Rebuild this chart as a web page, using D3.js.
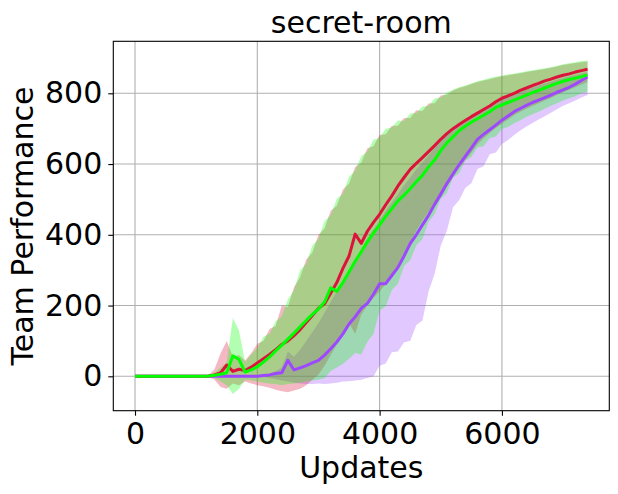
<!DOCTYPE html>
<html>
<head>
<meta charset="utf-8">
<script src="https://cdn.jsdelivr.net/npm/d3@7"></script>
<style>
  body { margin: 0; background: #fff; }
  text { font-family: "DejaVu Sans", sans-serif; fill: #000; }
</style>
</head>
<body>
<div id="chart"></div>
<script>
// sample grid of the runs (every 100 updates)
var updates = d3.range(0, 7401, 100);

var redMean = [0,0,0,0,0,0,0,0,0,0,
  0,0,1,4,10,32,14,20,16,26,
  38,50,62,75,90,100,115,132,152,172,
  192,205,235,265,305,340,402,376,410,435,
  458,485,510,538,562,585,602,618,635,652,
  670,686,700,712,723,734,744,754,764,776,
  786,793,800,808,815,822,828,835,840,846,
  851,855,860,864,868];
var redUpper = [0,0,0,0,0,0,0,0,0,0,
  0,0,3,20,65,100,55,60,45,65,
  92,100,134,142,200,196,252,280,330,350,
  400,418,468,482,528,544,592,604,645,650,
  682,684,708,708,730,730,752,750,771,772,
  794,796,808,815,820,826,832,836,840,845,
  848,851,854,857,860,863,866,869,872,876,
  880,883,886,888,890];
var redLower = [0,0,0,0,0,0,0,0,0,0,
  0,0,-2,-10,-30,-35,-20,-25,-15,-20,
  -25,-28,-32,-38,-42,-45,-40,-35,-25,-10,
  5,30,60,90,120,150,120,175,200,222,
  240,262,285,315,350,380,412,440,465,485,
  505,535,562,588,610,632,655,672,688,702,
  714,726,738,748,756,764,772,780,787,795,
  803,810,817,825,832];

var greenMean = [0,0,0,0,0,0,0,0,0,0,
  0,0,1,3,6,10,58,48,12,18,
  27,40,55,72,88,105,122,140,158,175,
  190,210,250,240,265,295,325,352,380,405,
  428,452,474,496,512,530,550,568,592,612,
  638,660,677,694,707,718,728,738,748,760,
  767,774,781,788,795,802,808,815,822,828,
  834,839,843,847,852];
var greenUpper = [0,0,0,0,0,0,0,0,0,0,
  0,0,3,10,25,40,165,130,40,62,
  80,112,120,156,170,218,243,300,318,370,
  388,438,456,502,516,564,581,622,636,668,
  675,700,703,723,722,743,744,763,764,785,
  788,802,810,817,822,828,834,838,843,847,
  850,853,856,859,862,865,868,871,874,878,
  882,885,888,891,893];
var greenLower = [0,0,0,0,0,0,0,0,0,0,
  0,0,-2,-5,-15,-25,-50,-35,-10,-12,
  -15,-18,-20,-22,-25,-22,-20,-18,-15,-12,
  -10,-5,15,25,35,50,66,62,98,120,
  185,198,244,262,312,328,370,388,437,458,
  502,518,561,574,610,620,647,650,674,678,
  699,705,715,724,733,741,748,756,765,772,
  780,786,792,800,805];

var purpleMean = [0,0,0,0,0,0,0,0,0,0,
  0,0,0,0,0,0,0,0,0,0,
  0,2,4,8,10,45,18,24,30,38,
  45,60,78,97,120,148,168,192,206,232,
  262,262,285,308,340,375,400,428,455,486,
  515,545,572,598,622,645,670,684,697,710,
  724,736,748,757,766,774,781,788,795,803,
  810,817,826,836,846];
var purpleUpper = [0,0,0,0,0,0,0,0,0,0,
  0,0,0,0,0,0,0,0,0,0,
  0,3,8,15,25,70,55,75,100,125,
  150,180,210,240,270,300,330,360,390,415,
  440,468,492,515,540,562,585,605,625,645,
  665,682,698,712,724,736,746,756,766,775,
  783,790,797,804,810,816,822,828,833,838,
  843,848,852,856,860];
var purpleLower = [0,0,0,0,0,0,0,0,0,0,
  0,0,0,0,0,0,0,0,0,0,
  0,-2,-5,-8,-12,-15,-18,-20,-22,-22,
  -20,-22,-20,-18,-15,-14,-12,-10,-5,0,
  30,36,68,70,96,100,145,158,240,290,
  370,412,478,498,532,546,586,594,628,633,
  657,668,682,695,706,716,726,735,745,755,
  765,772,780,788,795];

var xTicks = [0, 2000, 4000, 6000];
var yTicks = [0, 200, 400, 600, 800];

// drawn in this order: purple, red, green
var series = [
  { color: "#9d48ff", mean: purpleMean, upper: purpleUpper, lower: purpleLower },
  { color: "#dc143c", mean: redMean, upper: redUpper, lower: redLower },
  { color: "#00ff00", mean: greenMean, upper: greenUpper, lower: greenLower }
];

var W = 618, H = 494;
var margin = { top: 41.3, right: 8.7, bottom: 83.3, left: 113.3 },
  width = W - margin.left - margin.right,
  height = H - margin.top - margin.bottom;

var svg = d3.select("#chart")
  .append("svg")
  .attr("width", W)
  .attr("height", H)
  .append("g")
  .attr("transform", "translate(" + margin.left + "," + margin.top + ")");

var x = d3.scaleLinear().domain([-355, 7756]).range([0, width]);
var y = d3.scaleLinear().domain([-97.2, 947]).range([height, 0]);

// grid
svg.append("g")
  .selectAll("line.vx")
  .data(xTicks).enter().append("line")
  .attr("x1", function (d) { return x(d); })
  .attr("x2", function (d) { return x(d); })
  .attr("y1", 0).attr("y2", height)
  .style("stroke", "#b0b0b0").style("stroke-width", 1.1);
svg.append("g")
  .selectAll("line.hy")
  .data(yTicks).enter().append("line")
  .attr("y1", function (d) { return y(d); })
  .attr("y2", function (d) { return y(d); })
  .attr("x1", 0).attr("x2", width)
  .style("stroke", "#b0b0b0").style("stroke-width", 1.1);

var plot = svg.append("g");

var area = d3.area()
  .x(function (d) { return x(d.u); })
  .y0(function (d) { return y(d.lo); })
  .y1(function (d) { return y(d.hi); });

var line = d3.line()
  .x(function (d) { return x(d.u); })
  .y(function (d) { return y(d.m); });

series.forEach(function (s) {
  var rows = updates.map(function (u, i) {
    return { u: u, m: s.mean[i], lo: s.lower[i], hi: s.upper[i] };
  });
  plot.append("path")
    .datum(rows)
    .attr("d", area)
    .style("fill", s.color)
    .style("fill-opacity", 0.3)
    .style("stroke", "none");
  s.rows = rows;
});

series.forEach(function (s) {
  plot.append("path")
    .datum(s.rows)
    .attr("d", line)
    .style("fill", "none")
    .style("stroke", s.color)
    .style("stroke-width", 3)
    .style("stroke-linejoin", "round");
});

// axes
var xAxis = svg.append("g")
  .attr("transform", "translate(0," + height + ")")
  .call(d3.axisBottom(x).tickValues(xTicks).tickSize(5).tickPadding(7).tickFormat(d3.format("d")));
var yAxis = svg.append("g")
  .call(d3.axisLeft(y).tickValues(yTicks).tickSize(5).tickPadding(6).tickFormat(d3.format("d")));

[xAxis, yAxis].forEach(function (a) {
  a.select(".domain").remove();
  a.selectAll(".tick line").style("stroke", "#000").style("stroke-width", 1.1);
  a.selectAll(".tick text").style("font-size", "30px").style("font-family", "DejaVu Sans");
});

// frame
svg.append("rect")
  .attr("width", width)
  .attr("height", height)
  .style("fill", "none")
  .style("stroke", "#000")
  .style("stroke-width", 1.1);

// labels
svg.append("text")
  .attr("x", width / 2)
  .attr("y", 32.7 - margin.top)
  .attr("text-anchor", "middle")
  .style("font-size", "30px")
  .text("secret-room");

svg.append("text")
  .attr("x", width / 2)
  .attr("y", 478 - margin.top)
  .attr("text-anchor", "middle")
  .style("font-size", "30px")
  .text("Updates");

svg.append("text")
  .attr("transform", "translate(" + (33 - margin.left) + "," + (height / 2) + ") rotate(-90)")
  .attr("text-anchor", "middle")
  .style("font-size", "30px")
  .text("Team Performance");
</script>
</body>
</html>
